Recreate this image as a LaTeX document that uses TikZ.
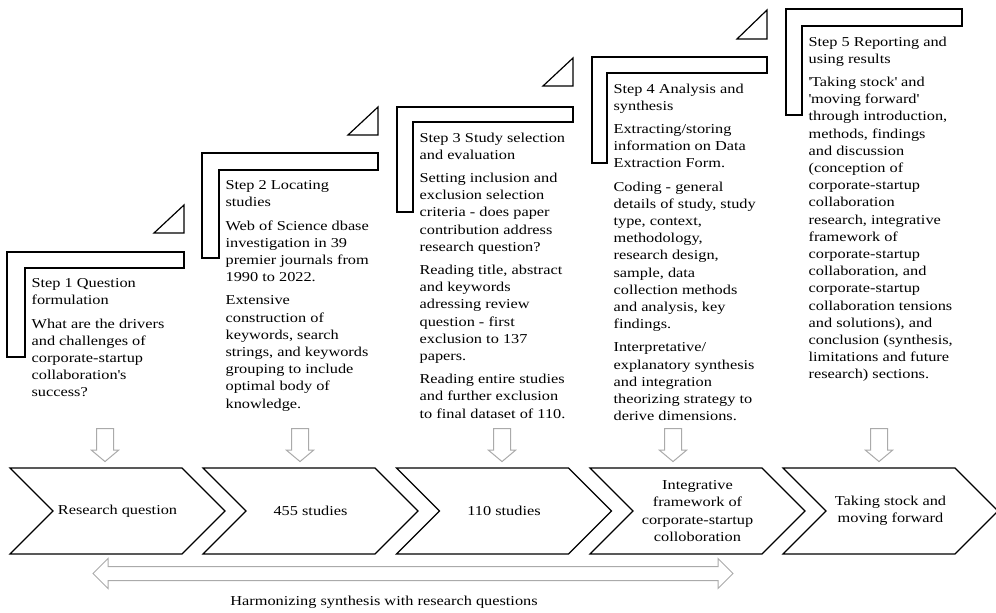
\documentclass[tikz,border=0pt]{standalone}
\usepackage{fontspec}
\setmainfont{Liberation Serif}[FakeStretch=1.2]
\usetikzlibrary{shapes.symbols,shapes.arrows,positioning}
\definecolor{arrowgray}{RGB}{170,170,170}
\newcommand\diafont{\fontsize{13.6pt}{17.2pt}\selectfont}
\newcommand\sq{\textquotesingle}

\begin{document}
\begin{tikzpicture}[x=1pt,y=-1pt,line width=1.2pt,
  chev/.style={draw,signal,signal from=west,signal to=east,signal pointer angle=90,
    minimum width=215pt,minimum height=86pt,inner sep=0pt,align=center,font=\diafont},
  steptext/.style={anchor=north west,align=left,inner sep=0pt,font=\diafont},
  downarrow/.style={draw=arrowgray,line width=1pt,single arrow,rotate=-90,
    single arrow head extend=5pt,single arrow tip angle=100,
    minimum height=33pt,inner xsep=0pt,inner ysep=8pt}]
\useasboundingbox (0,0) rectangle (996,613);

% step brackets
\draw (7,252) -- (184,252) -- (184,268) -- (25,268) -- (25,357) -- (7,357) -- cycle;
\draw (154,233) -- (184,233) -- (184,205) -- cycle;
\draw (202,153) -- (378,153) -- (378,170) -- (219,170) -- (219,258) -- (202,258) -- cycle;
\draw (348,135) -- (378,135) -- (378,107) -- cycle;
\draw (397,107) -- (573,107) -- (573,122) -- (413,122) -- (413,212) -- (397,212) -- cycle;
\draw (543,86) -- (573,86) -- (573,58) -- cycle;
\draw (592,57) -- (767,57) -- (767,73) -- (607,73) -- (607,163) -- (592,163) -- cycle;
\draw (737,39) -- (767,39) -- (767,10) -- cycle;
\draw (786,9) -- (962,9) -- (962,26) -- (802,26) -- (802,115) -- (786,115) -- cycle;

\node[steptext] (s1) at (31,278) {Step 1 Question\\formulation\\[6pt]
  What are the drivers\\and challenges of\\corporate-startup\\collaboration\sq s\\success?};
\node[steptext] (s2) at (225,180) {Step 2 Locating\\studies\\[6pt]
  Web of Science dbase\\investigation in 39\\premier journals from\\1990 to 2022.\\[6pt]
  Extensive\\construction of\\keywords, search\\strings, and keywords\\grouping to include\\optimal body of\\knowledge.};
\node[steptext] (s3) at (419,132) {Step 3 Study selection\\and evaluation\\[6pt]
  Setting inclusion and\\exclusion selection\\criteria - does paper\\contribution address\\research question?\\[6pt]
  Reading title, abstract\\and keywords\\adressing review\\question - first\\exclusion to 137\\papers.\\[6pt]
  Reading entire studies\\and further exclusion\\to final dataset of 110.};
\node[steptext] (s4) at (613,83) {Step 4 Analysis and\\synthesis\\[6pt]
  Extracting/storing\\information on Data\\Extraction Form.\\[6pt]
  Coding - general\\details of study, study\\type, context,\\methodology,\\research design,\\sample, data\\collection methods\\and analysis, key\\findings.\\[6pt]
  Interpretative/\\explanatory synthesis\\and integration\\theorizing strategy to\\derive dimensions.};
\node[steptext] (s5) at (808,36) {Step 5 Reporting and\\using results\\[6pt]
  \sq Taking stock\sq{} and\\\sq moving forward\sq\\through introduction,\\methods, findings\\and discussion\\(conception of\\corporate-startup\\collaboration\\research, integrative\\framework of\\corporate-startup\\collaboration, and\\corporate-startup\\collaboration tensions\\and solutions), and\\conclusion (synthesis,\\limitations and future\\research) sections.};

\node[downarrow] (d1) at (105,441.5) {};
\node[downarrow] (d2) at (300,441.5) {};
\node[downarrow] (d3) at (502,441.5) {};
\node[downarrow] (d4) at (673,441.5) {};
\node[downarrow] (d5) at (879,441.5) {};

\node[chev] (c1) at (117.5,511) {Research question};
\node[chev] (c2) at (310.5,511) {455 studies};
\node[chev] (c3) at (504,511) {110 studies};
\node[chev] (c4) at (697.5,511) {Integrative\\framework of\\corporate-startup\\colloboration};
\node[chev] (c5) at (890.5,511) {Taking stock and\\moving forward};

\node[draw=arrowgray,line width=1pt,double arrow,double arrow head extend=8pt,
  minimum height=640pt,inner xsep=0pt,inner ysep=6.5pt] (harm) at (413,573.5) {};
\node[font=\diafont,inner sep=0pt] (harmlabel) at (384,602) {Harmonizing synthesis with research questions};
\end{tikzpicture}
\end{document}
